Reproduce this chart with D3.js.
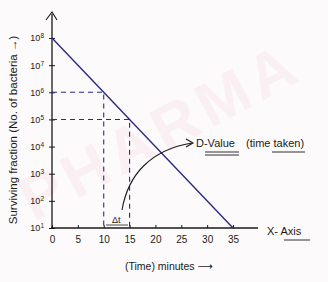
<!DOCTYPE html>
<html><head><meta charset="utf-8">
<script src="https://cdn.jsdelivr.net/npm/d3@7"></script>
<style>
body{margin:0;background:#fdfafb;}
svg{display:block;font-family:"Liberation Sans","DejaVu Sans",sans-serif;}
</style></head>
<body>
<svg id="c" width="328" height="282"></svg>
<script>
// Data
const timeMin = [0, 10, 15, 35];
const survivors = [1e8, 1e6, 1e5, 1e1];
const xTicks = [0, 5, 10, 15, 20, 25, 30, 35];
const yExponents = [8, 7, 6, 5, 4, 3, 2, 1];
const dashedTimes = [10, 15];
const dashedCounts = [1e6, 1e5];

const svg = d3.select("#c");
const x = d3.scaleLinear().domain([0, 35]).range([52, 233]);
const y = d3.scaleLog().domain([10, 1e8]).range([228, 38]);
const ink = "#1a1a1a", navy = "#2b2b86";

// watermark
svg.append("text").attr("x", 170).attr("y", 150)
  .attr("transform", "rotate(-28,170,150)")
  .attr("text-anchor", "middle").attr("font-size", 62).attr("font-weight", "bold")
  .attr("fill", "#f4d9e1").attr("opacity", 0.3).attr("letter-spacing", 6)
  .text("PHARMA");

// axis lines
svg.append("line").attr("x1", 52).attr("x2", 52).attr("y1", 229).attr("y2", 14)
  .attr("stroke", ink).attr("stroke-width", 1.3);
svg.append("line").attr("x1", 51).attr("x2", 258).attr("y1", 228).attr("y2", 228)
  .attr("stroke", ink).attr("stroke-width", 1.3);
// Y arrow head
svg.append("path").attr("d", "M46,20 L52,12 L57,20").attr("fill", "none").attr("stroke", ink).attr("stroke-width", 1.1);

// x axis ticks
const gx = svg.append("g").attr("transform", "translate(0,228)")
  .call(d3.axisBottom(x).tickValues(xTicks).tickSize(3).tickFormat(d3.format("d")));
gx.select(".domain").remove();
gx.selectAll("line").attr("y1", -3).attr("y2", 0).attr("stroke", ink);
gx.selectAll("text").attr("font-size", 10).attr("fill", ink).attr("dy", "0.9em");

// y axis ticks
const gy = svg.append("g").attr("transform", "translate(52,0)")
  .call(d3.axisLeft(y).tickValues(yExponents.map(e => Math.pow(10, e))).tickSize(3).tickFormat(""));
gy.select(".domain").remove();
gy.selectAll("line").attr("x1", -3).attr("x2", 3).attr("stroke", ink);
gy.selectAll(".tick").each(function(d) {
  const t = d3.select(this).append("text").attr("x", -8).attr("dy", "0.32em")
    .attr("text-anchor", "end").attr("font-size", 9).attr("fill", ink);
  t.append("tspan").text("10");
  t.append("tspan").attr("dy", "-0.45em").attr("font-size", 6.5).text(Math.round(Math.log10(d)));
});

// dashed guides
dashedTimes.forEach((t, i) => {
  const c = dashedCounts[i];
  svg.append("path")
    .attr("d", `M${x(0)},${y(c)} L${x(t)},${y(c)} L${x(t)},${y(10)}`)
    .attr("fill", "none").attr("stroke", navy).attr("stroke-width", 1.1)
    .attr("stroke-dasharray", "5,4");
});

// main line
svg.append("path").datum(timeMin.map((t, i) => [t, survivors[i]]))
  .attr("d", d3.line().x(d => x(d[0])).y(d => y(d[1])))
  .attr("fill", "none").attr("stroke", navy).attr("stroke-width", 1.4);

// Δt scribble
svg.append("text").attr("x", 112).attr("y", 223).attr("font-size", 9).attr("fill", ink).text("Δt");
svg.append("line").attr("x1", 106).attr("x2", 128).attr("y1", 225).attr("y2", 225).attr("stroke", ink).attr("stroke-width", 0.8);

// curved arrow to D-Value
svg.append("path").attr("d", "M122,210 C128,175 150,150 192,143")
  .attr("fill", "none").attr("stroke", ink).attr("stroke-width", 1.1);
svg.append("path").attr("d", "M186,139 L193,143 L186,147").attr("fill", "none").attr("stroke", ink).attr("stroke-width", 1.1);

// D-value label
svg.append("text").attr("x", 196).attr("y", 147).attr("font-size", 11).attr("fill", ink).text("D-Value");
svg.append("line").attr("x1", 205).attr("x2", 239).attr("y1", 152).attr("y2", 152).attr("stroke", ink).attr("stroke-width", 0.9);
svg.append("line").attr("x1", 205).attr("x2", 239).attr("y1", 155).attr("y2", 155).attr("stroke", ink).attr("stroke-width", 0.9);
svg.append("text").attr("x", 246).attr("y", 147).attr("font-size", 11).attr("fill", ink).text("(time taken)");
svg.append("line").attr("x1", 272).attr("x2", 305).attr("y1", 152).attr("y2", 152).attr("stroke", ink).attr("stroke-width", 0.9);

// X-Axis label
svg.append("text").attr("x", 267).attr("y", 235).attr("font-size", 11).attr("fill", ink).text("X- Axis");
svg.append("line").attr("x1", 284).attr("x2", 310).attr("y1", 240).attr("y2", 240).attr("stroke", ink).attr("stroke-width", 0.9);

// x title
svg.append("text").attr("x", 125).attr("y", 270).attr("font-size", 10.5).attr("fill", ink).text("(Time) minutes ⟶");

// y title
svg.append("text").attr("transform", "translate(17,130) rotate(-90)")
  .attr("text-anchor", "middle").attr("font-size", 11.5).attr("fill", ink)
  .text("Surviving fraction (No. of bacteria →)");
</script>
</body></html>
